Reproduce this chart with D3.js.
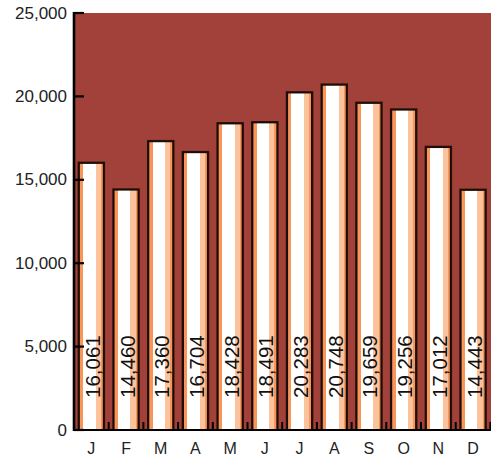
<!DOCTYPE html>
<html>
<head>
<meta charset="utf-8">
<script src="https://cdn.jsdelivr.net/npm/d3@7"></script>
<style>
  html, body { margin: 0; padding: 0; background: #fff; }
  svg { display: block; font-family: "Liberation Sans", Arial, Helvetica, sans-serif; }
</style>
</head>
<body>
<svg id="chart" width="491" height="460"></svg>
<script>
// Monthly totals
const months = ["J", "F", "M", "A", "M", "J", "J", "A", "S", "O", "N", "D"];
const values = [16061, 14460, 17360, 16704, 18428, 18491, 20283, 20748, 19659, 19256, 17012, 14443];
const yTicks = [0, 5000, 10000, 15000, 20000, 25000];

const svg = d3.select("#chart");
const plotLeft = 74, plotRight = 491, plotTop = 13, plotBottom = 430;

const x = d3.scaleBand()
  .domain(d3.range(months.length))
  .range([plotLeft, plotLeft + 12 * 34.7])
  .paddingInner(0.236)
  .paddingOuter(0.118);

const y = d3.scaleLinear().domain([0, 25000]).range([plotBottom, plotTop]);
const fmt = d3.format(",");

// striped bar fill
const defs = svg.append("defs");
const grad = defs.append("linearGradient").attr("id", "barFill")
  .attr("x1", "0%").attr("x2", "100%").attr("y1", "0%").attr("y2", "0%");
[
  [0, "#f8965a"], [0.17, "#f8965a"], [0.17, "#ffffff"], [0.68, "#ffffff"],
  [0.68, "#fcc29c"], [0.89, "#fcc29c"], [0.89, "#f8965a"], [1, "#f8965a"]
].forEach(([o, c]) => grad.append("stop").attr("offset", o).attr("stop-color", c));

const shadow = defs.append("filter").attr("id", "soft")
  .attr("x", "-20%").attr("y", "-20%").attr("width", "140%").attr("height", "140%");
shadow.append("feGaussianBlur").attr("stdDeviation", 0.6);

// plot background
svg.append("rect")
  .attr("x", plotLeft).attr("y", plotTop)
  .attr("width", plotRight - plotLeft).attr("height", plotBottom - plotTop)
  .attr("fill", "#a1413a");

// bars: soft dark edge, then the striped fill with outline
const bars = svg.append("g");
bars.selectAll("rect.edge").data(values).join("rect")
  .attr("class", "edge")
  .attr("x", (d, i) => x(i) - 0.5)
  .attr("y", d => y(d) - 0.5)
  .attr("width", x.bandwidth() + 1)
  .attr("height", d => plotBottom - y(d) + 0.5)
  .attr("fill", "#2a120a")
  .attr("filter", "url(#soft)");
bars.selectAll("rect.bar").data(values).join("rect")
  .attr("class", "bar")
  .attr("x", (d, i) => x(i) + 1)
  .attr("y", d => y(d) + 1)
  .attr("width", x.bandwidth() - 2)
  .attr("height", d => plotBottom - y(d) - 1)
  .attr("fill", "url(#barFill)")
  .attr("stroke", "#1c0c06")
  .attr("stroke-width", 1.6);

// value labels, rotated inside each bar
svg.append("g").selectAll("text").data(values).join("text")
  .attr("transform", (d, i) => `translate(${x(i) + x.bandwidth() / 2 + 1},398) rotate(-90)`)
  .attr("dominant-baseline", "central")
  .attr("font-size", 20.5)
  .attr("fill", "#111")
  .text(d => fmt(d));

// y axis
const yAxis = svg.append("g");
yAxis.append("line")
  .attr("x1", plotLeft).attr("x2", plotLeft).attr("y1", plotTop - 1).attr("y2", plotBottom + 1)
  .attr("stroke", "#000").attr("stroke-width", 2.6);
yAxis.selectAll("line.tick").data(yTicks).join("line")
  .attr("class", "tick")
  .attr("x1", plotLeft).attr("x2", plotLeft + 10)
  .attr("y1", d => y(d)).attr("y2", d => y(d))
  .attr("stroke", "#000").attr("stroke-width", 2.2);
yAxis.selectAll("text").data(yTicks).join("text")
  .attr("x", plotLeft - 7).attr("y", d => y(d))
  .attr("text-anchor", "end").attr("dominant-baseline", "central")
  .attr("font-size", 17).attr("fill", "#222")
  .text(d => fmt(d));

// x axis
const xAxis = svg.append("g");
xAxis.append("line")
  .attr("x1", plotLeft).attr("x2", plotRight).attr("y1", plotBottom).attr("y2", plotBottom)
  .attr("stroke", "#000").attr("stroke-width", 2);
const bounds = d3.range(months.length + 1).map(i => plotLeft + i * x.step());
xAxis.selectAll("line.tick").data(bounds).join("line")
  .attr("class", "tick")
  .attr("x1", d => d).attr("x2", d => d)
  .attr("y1", plotBottom).attr("y2", plotBottom - 8)
  .attr("stroke", "#000").attr("stroke-width", 2);
xAxis.selectAll("text").data(months).join("text")
  .attr("x", (d, i) => x(i) + x.bandwidth() / 2)
  .attr("y", 448)
  .attr("text-anchor", "middle").attr("dominant-baseline", "central")
  .attr("font-size", 16).attr("fill", "#222")
  .text(d => d);
</script>
</body>
</html>
